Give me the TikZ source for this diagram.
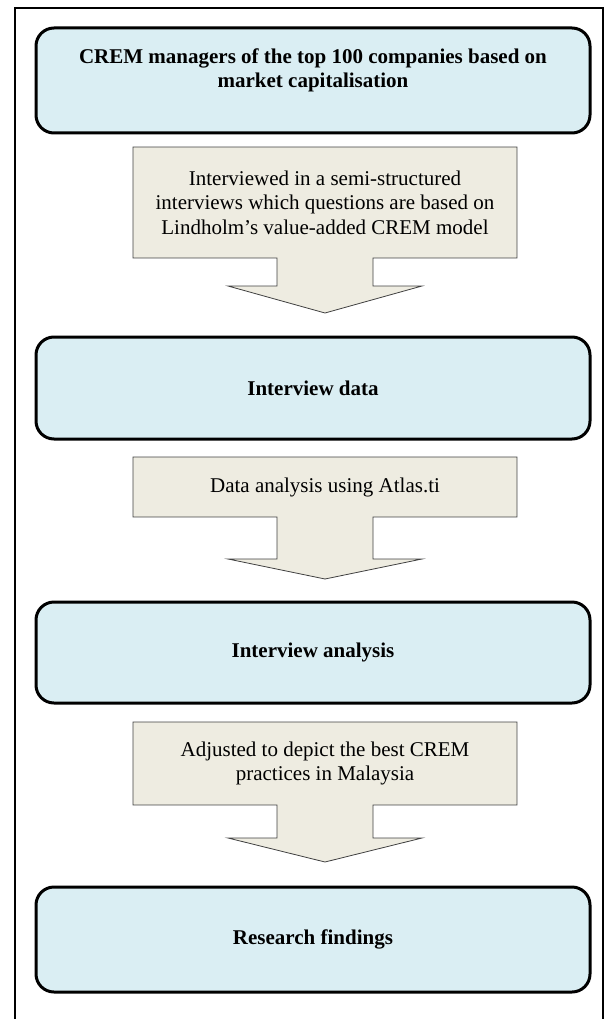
\documentclass[tikz,border=0pt]{standalone}
\usepackage{fontspec}
\setmainfont{Liberation Serif}
\usetikzlibrary{positioning}
\definecolor{stageblue}{HTML}{DAEEF3}
\definecolor{calltan}{HTML}{EEECE1}

\begin{document}
\begin{tikzpicture}[x=1pt,y=-1pt,
	stage/.style={draw, line width=3pt, rounded corners=18pt, fill=stageblue,
		minimum width=554pt, align=center, outer sep=0pt,
		font=\fontsize{21}{24.5}\selectfont\bfseries},
	callout/.style={fill=calltan, minimum width=384pt, align=center, outer sep=0pt,
		inner sep=0pt, font=\fontsize{21}{24.5}\selectfont},
	callline/.style={draw=black!75, line width=0.8pt, line join=miter}]
	\useasboundingbox (0,0) rectangle (612,1019);
	% outer frame, open at the bottom
	\draw[line width=1.2pt] (15,1019) -- (15,8) -- (603,8) -- (603,1019);
	% the four stages
	\node[stage, minimum height=105pt] (crem) at (313,80.5) {CREM managers of the top 100 companies based on\\ market capitalisation\rule[-25pt]{0pt}{1pt}};
	\node[stage, minimum height=102pt] (data) at (313,388) {Interview data};
	\node[stage, minimum height=101pt] (anal) at (313,652.5) {Interview analysis};
	\node[stage, minimum height=105pt] (find) at (313,939.5) {Research findings};
	% the callout arrows between them
	\node[callout, minimum height=111pt] (c1) at (325,202.5) {Interviewed in a semi-structured\\ interviews which questions are based on\\ Lindholm's value-added CREM model};
	\node[callout, minimum height=60pt] (c2) at (325,487) {Data analysis using Atlas.ti};
	\node[callout, minimum height=83pt] (c3) at (325,763.5) {Adjusted to depict the best CREM\\ practices in Malaysia};
	\foreach \n/\s/\h in {c1/28/27, c2/42/20, c3/33/24}{
		\fill[calltan] ([xshift=-48pt]\n.south) -- ([xshift=-48pt,yshift=-\s pt]\n.south)
			-- ([xshift=-97pt,yshift=-\s pt]\n.south) -- ([yshift=-\s pt-\h pt]\n.south)
			-- ([xshift=97pt,yshift=-\s pt]\n.south) -- ([xshift=48pt,yshift=-\s pt]\n.south)
			-- ([xshift=48pt]\n.south) -- cycle;
		\draw[callline] ([xshift=-48pt]\n.south) -- (\n.south west) -- (\n.north west)
			-- (\n.north east) -- (\n.south east) -- ([xshift=48pt]\n.south)
			-- ([xshift=48pt,yshift=-\s pt]\n.south) -- ([xshift=97pt,yshift=-\s pt]\n.south)
			-- ([yshift=-\s pt-\h pt]\n.south) -- ([xshift=-97pt,yshift=-\s pt]\n.south)
			-- ([xshift=-48pt,yshift=-\s pt]\n.south) -- cycle;
	}
\end{tikzpicture}
\end{document}
